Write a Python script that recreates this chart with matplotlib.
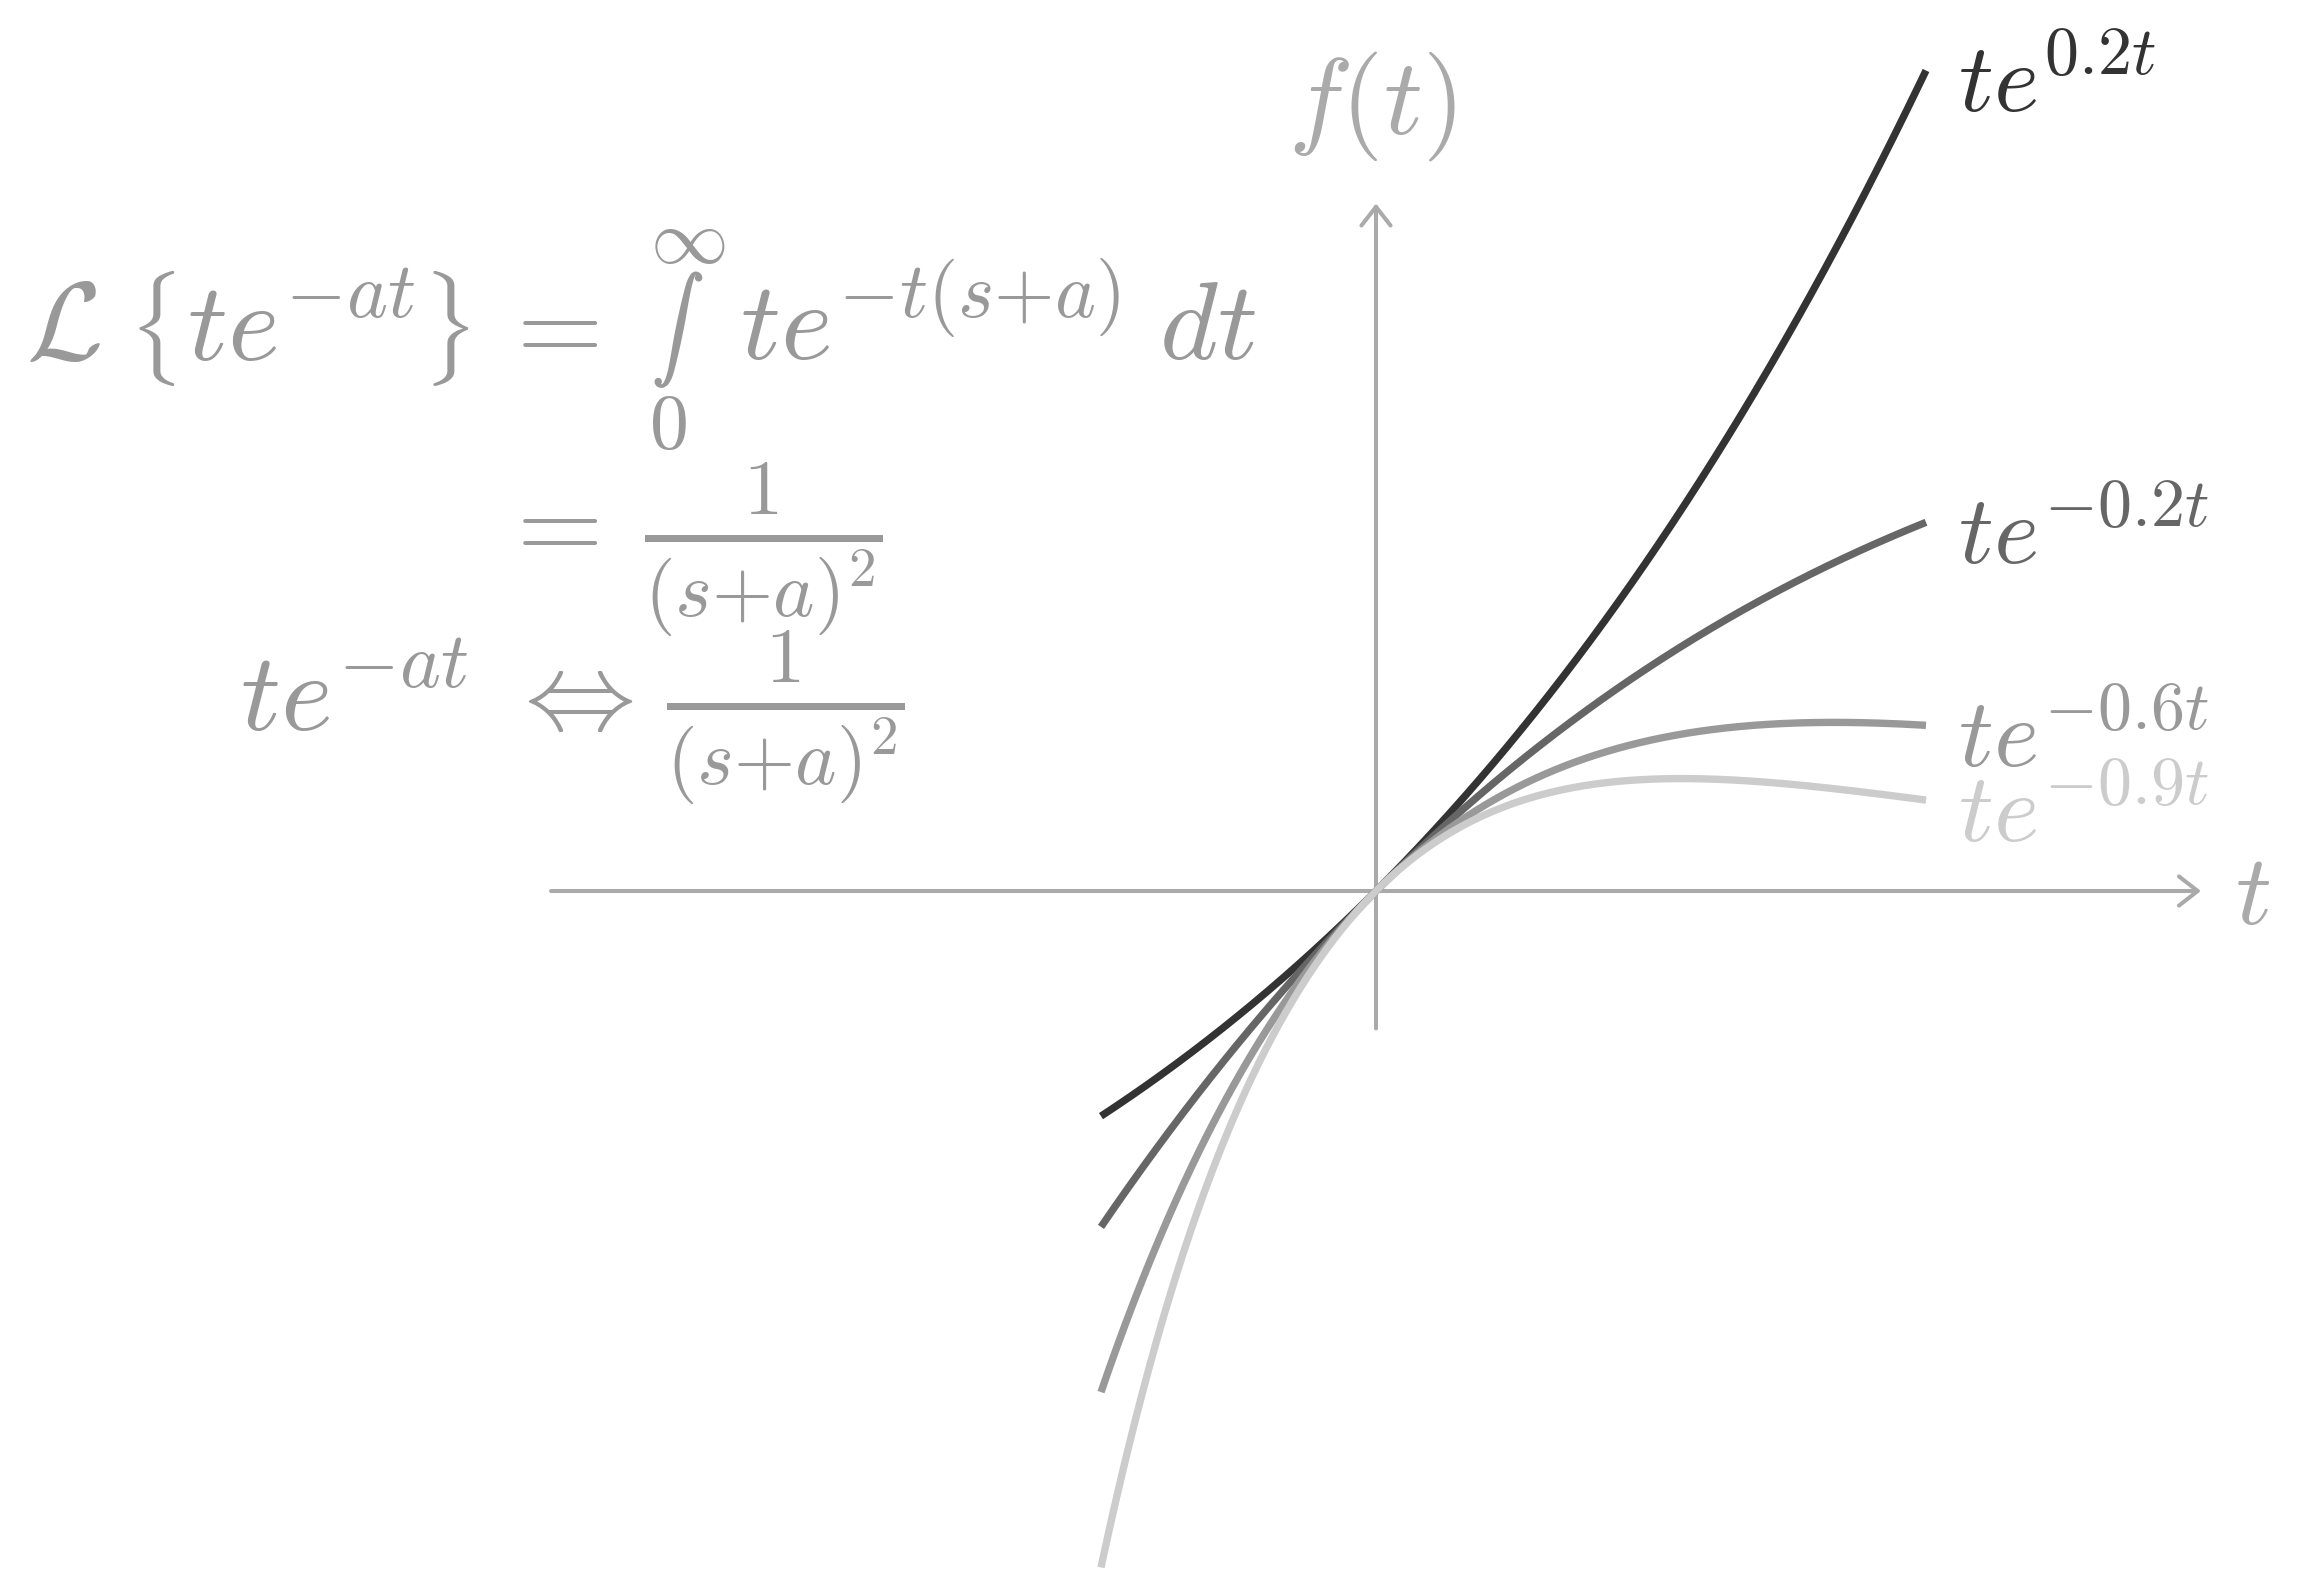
import numpy as np
import matplotlib
matplotlib.use("Agg")
import matplotlib.pyplot as plt
import matplotlib.patheffects as pe

plt.rcParams['mathtext.fontset'] = 'cm'

# Data: f(t) = t * exp(rate * t) for each labelled rate
rates = [0.2, -0.2, -0.6, -0.9]
labels = [r'$te^{0.2t}$', r'$te^{-0.2t}$', r'$te^{-0.6t}$', r'$te^{-0.9t}$']
colors = ['#333333', '#666666', '#999999', '#cccccc']
t_range = [-1.0, 2.0]
x_axis_range = [-3.0, 3.0]
y_axis_range = [-0.5, 2.5]

W, H = 2305, 1575
fig = plt.figure(figsize=(W / 100, H / 100), dpi=100)
ax = fig.add_axes([0, 0, 1, 1])
ax.axis('off')

# scale: origin at (1376, 891) px, 275 px per unit
ox, oy, s = 1376, 891, 275
ax.set_xlim(-ox / s, (W - ox) / s)
ax.set_ylim(-(H - oy) / s, oy / s)

axis_col = '#aaaaaa'
arrow = dict(arrowstyle='->,head_length=0.45,head_width=0.35', color=axis_col,
             lw=2.9, mutation_scale=30, shrinkA=0, shrinkB=0)
ax.annotate('', xy=(x_axis_range[1], 0), xytext=(x_axis_range[0], 0), arrowprops=arrow)
ax.annotate('', xy=(0, y_axis_range[1]), xytext=(0, y_axis_range[0]), arrowprops=arrow)

t = np.linspace(t_range[0], t_range[1], 600)
for r, c in zip(rates, colors):
    ax.plot(t, t * np.exp(r * t), color=c, lw=5.3, solid_capstyle='butt', zorder=3)

def ft(x, y):
    return x / W, 1 - y / H

# curve labels
label_y = [112, 564, 767, 842]
for lab, c, yb in zip(labels, colors, label_y):
    fig.text(*ft(1958, yb), lab, color=c, fontsize=70, ha='left', va='baseline')

# axis labels
fig.text(*ft(1372, 134), r'$f(t)$', color=axis_col, fontsize=78, ha='center', va='baseline')
fig.text(*ft(2235, 924), r'$t$', color=axis_col, fontsize=72, ha='left', va='baseline')

eq_col = '#999999'
big = 80
frac_size = 81
# line 1, built piece by piece
fig.text(*ft(26, 360), r'$\mathcal{L}$', color=eq_col, fontsize=big, ha='left', va='baseline')
fig.text(*ft(128, 329), r'$\{$', color=eq_col, fontsize=69, ha='left', va='center')
fig.text(*ft(187, 360), r'$te^{-at}$', color=eq_col, fontsize=big, ha='left', va='baseline')
fig.text(*ft(422, 329), r'$\}$', color=eq_col, fontsize=69, ha='left', va='center')
fig.text(*ft(497, 360), r'$=$', color=eq_col, fontsize=big, ha='left', va='baseline')
fig.text(*ft(678, 330), r'$\int$', color=eq_col, fontsize=37, ha='center', va='center',
         path_effects=[pe.withStroke(linewidth=1.6, foreground=eq_col)])
fig.text(*ft(688, 241), r'$\infty$', color=eq_col, fontsize=56, ha='center', va='center')
fig.text(*ft(668, 426), r'$0$', color=eq_col, fontsize=56, ha='center', va='center')
fig.text(*ft(740, 360), r'$te^{-t(s{+}a)}\;dt$', color=eq_col, fontsize=big,
         ha='left', va='baseline')

# line 2
fig.text(*ft(497, 558), r'$=$', color=eq_col, fontsize=big, ha='left', va='baseline')
fig.text(*ft(644, 557), r'$\frac{1}{(s{+}a)^2}$', color=eq_col, fontsize=frac_size,
         ha='left', va='baseline')

# line 3
fig.text(*ft(240, 730), r'$te^{-at}$', color=eq_col, fontsize=big, ha='left', va='baseline')
fig.text(*ft(505, 730), r'$\Leftrightarrow$', color=eq_col, fontsize=big, ha='left', va='baseline')
fig.text(*ft(666, 725), r'$\frac{1}{(s{+}a)^2}$', color=eq_col, fontsize=frac_size,
         ha='left', va='baseline')

fig.savefig('out.png', dpi=100, facecolor='white')
